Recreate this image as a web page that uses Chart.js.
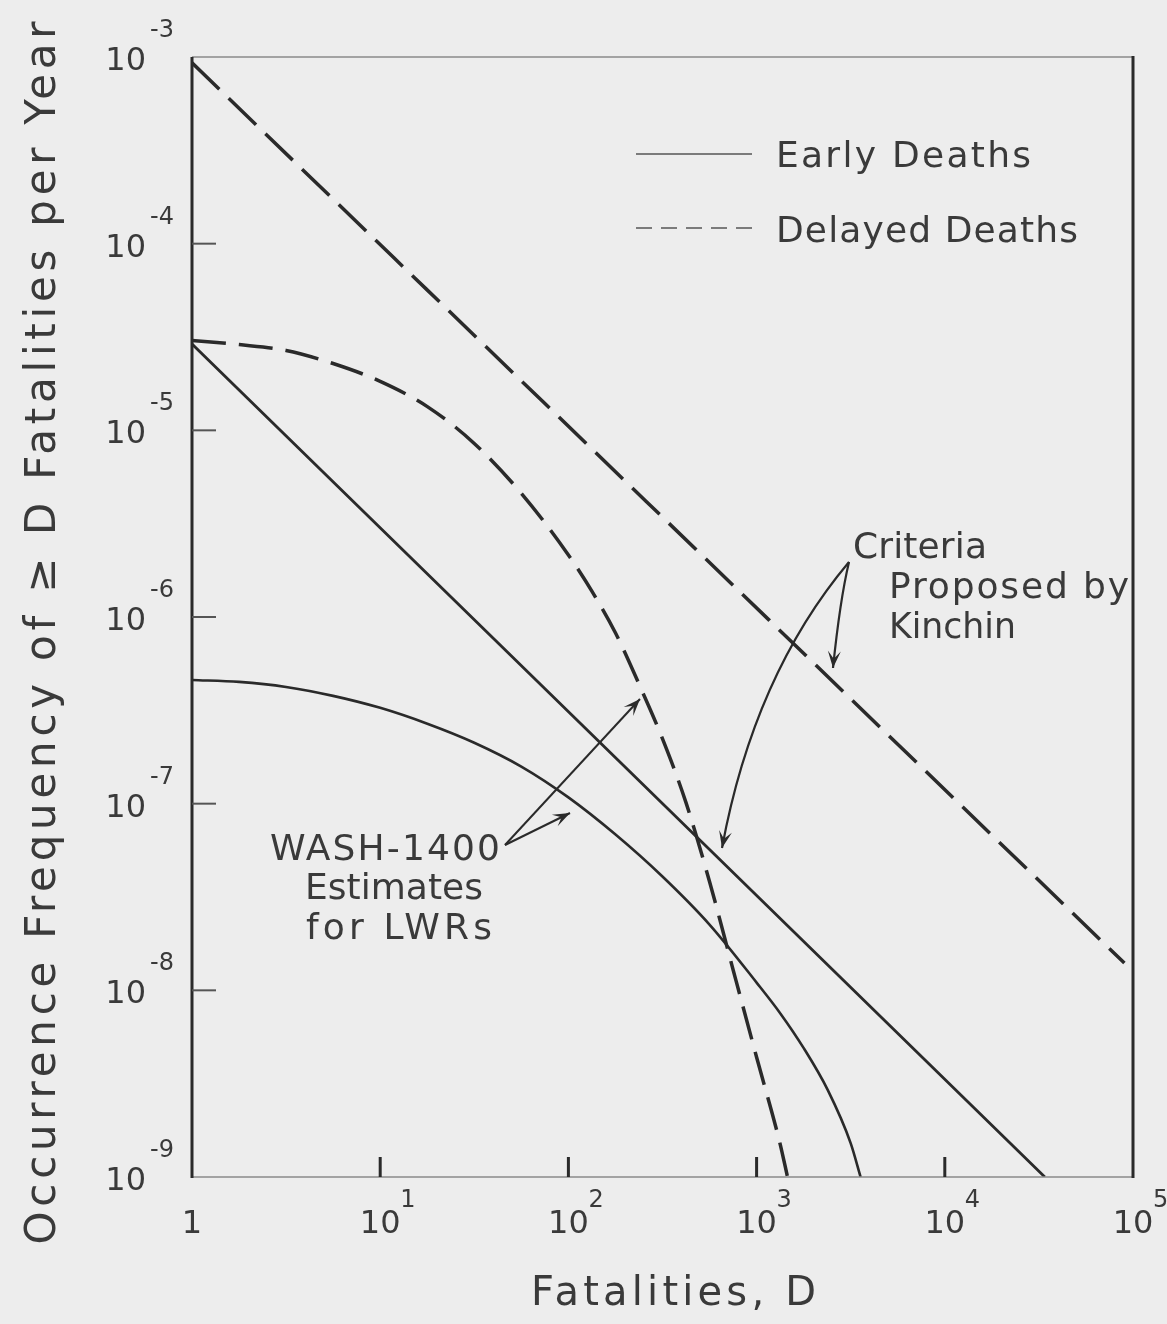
<!DOCTYPE html>
<html>
<head>
<meta charset="utf-8">
<script src="https://cdn.jsdelivr.net/npm/chart.js@4.4.1/dist/chart.umd.min.js"></script>
<style>
  html, body { margin: 0; padding: 0; background: #ededed; }
  canvas { display: block; }
</style>
</head>
<body>
<canvas id="fig" width="1167" height="1324"></canvas>
<script>
// Fatalities D (x) and frequency of >= D fatalities per year (y)
const kinchinEarlyD = [1, 34000];
const kinchinEarlyF = [2.9e-5, 1.0e-9];
const kinchinDelayedD = [1, 90000];
const kinchinDelayedF = [9.3e-4, 1.4e-8];

const washEarlyD = [1, 1.78, 3.16, 5.62, 10, 17.8, 31.6, 56.2, 100, 178, 316, 562, 1000, 1340, 1780, 2390, 3160, 3570];
const washEarlyF = [4.6e-7, 4.49e-7, 4.22e-7, 3.78e-7, 3.26e-7, 2.68e-7, 2.12e-7, 1.58e-7, 1.08e-7, 6.83e-8, 4.07e-8, 2.25e-8, 1.10e-8, 7.5e-9, 4.9e-9, 2.92e-9, 1.52e-9, 1.0e-9];

const washDelayedD = [1, 1.78, 3.16, 5.62, 10, 17.8, 31.6, 56.2, 100, 133, 178, 237, 316, 422, 562, 750, 1000, 1330, 1460];
const washDelayedF = [3.03e-5, 2.88e-5, 2.68e-5, 2.28e-5, 1.83e-5, 1.34e-5, 8.51e-6, 4.6e-6, 2.15e-6, 1.38e-6, 8.21e-7, 4.38e-7, 2.23e-7, 1.01e-7, 3.83e-8, 1.29e-8, 4.38e-9, 1.52e-9, 1.0e-9];

const xTickVals = [1, 10, 100, 1000, 10000, 100000];
const xTickExp = ['', '1', '2', '3', '4', '5'];
const yTickVals = [1e-3, 1e-4, 1e-5, 1e-6, 1e-7, 1e-8, 1e-9];
const yTickExp = ['-3', '-4', '-5', '-6', '-7', '-8', '-9'];

const FONT = '"DejaVu Sans", sans-serif';
const INK = '#2a2a2a';
const TXT = '#3a3a3a';

function toPoints(xs, ys) {
    return xs.map((d, i) => ({ x: d, y: ys[i] }));
}

// draw text stretched (letter spacing) to a given width
function fitText(c, text, x, y, width, size, align) {
    c.letterSpacing = '0px';
    c.font = size + 'px ' + FONT;
    let w = c.measureText(text).width;
    if (w > width) {
        size = size * width / w;
        c.font = size + 'px ' + FONT;
    } else if (text.length > 1) {
        c.letterSpacing = ((width - w) / (text.length - 1)) + 'px';
    }
    c.textAlign = 'left';
    let x0 = x;
    if (align === 'center') x0 = x - width / 2;
    if (align === 'right') x0 = x - width;
    c.fillText(text, x0, y);
    c.letterSpacing = '0px';
}

function arrowHead(c, tipX, tipY, fromX, fromY) {
    const ang = Math.atan2(tipY - fromY, tipX - fromX);
    const len = 17, half = 6.5;
    c.beginPath();
    c.moveTo(tipX, tipY);
    c.lineTo(tipX - len * Math.cos(ang) + half * Math.sin(ang), tipY - len * Math.sin(ang) - half * Math.cos(ang));
    c.lineTo(tipX - len * 0.55 * Math.cos(ang), tipY - len * 0.55 * Math.sin(ang));
    c.lineTo(tipX - len * Math.cos(ang) - half * Math.sin(ang), tipY - len * Math.sin(ang) + half * Math.cos(ang));
    c.closePath();
    c.fill();
}

const decor = {
    id: 'decor',
    beforeDraw(chart) {
        const c = chart.ctx;
        c.save();
        c.fillStyle = '#ededed';
        c.fillRect(0, 0, chart.width, chart.height);
        c.restore();
    },
    afterDraw(chart) {
        const c = chart.ctx;
        const a = chart.chartArea;
        const xs = chart.scales.x, ys = chart.scales.y;
        c.save();

        // frame: heavy sides, light top and bottom
        c.strokeStyle = '#8a8a8a';
        c.lineWidth = 1.5;
        c.beginPath();
        c.moveTo(a.left, a.top); c.lineTo(a.right, a.top);
        c.moveTo(a.left, a.bottom); c.lineTo(a.right, a.bottom);
        c.stroke();
        c.strokeStyle = INK;
        c.lineWidth = 3;
        c.beginPath();
        c.moveTo(a.left, a.top); c.lineTo(a.left, a.bottom + 1);
        c.moveTo(a.right, a.top - 1); c.lineTo(a.right, a.bottom + 1);
        c.stroke();

        // inward ticks
        c.lineWidth = 2;
        c.strokeStyle = '#555';
        yTickVals.slice(1, -1).forEach(v => {
            const py = ys.getPixelForValue(v);
            c.beginPath(); c.moveTo(a.left, py); c.lineTo(a.left + 24, py); c.stroke();
        });
        c.lineWidth = 3;
        c.strokeStyle = INK;
        xTickVals.slice(1, -1).forEach(v => {
            const px = xs.getPixelForValue(v);
            c.beginPath(); c.moveTo(px, a.bottom); c.lineTo(px, a.bottom - 20); c.stroke();
        });

        // tick labels
        c.fillStyle = TXT;
        c.textBaseline = 'alphabetic';
        yTickVals.forEach((v, i) => {
            const py = ys.getPixelForValue(v);
            c.font = '32px ' + FONT;
            c.textAlign = 'right';
            c.fillText('10', a.left - 46, py + 13);
            c.font = '24px ' + FONT;
            c.textAlign = 'left';
            c.fillText(yTickExp[i], a.left - 42, py - 20);
        });
        xTickVals.forEach((v, i) => {
            const px = xs.getPixelForValue(v);
            c.font = '32px ' + FONT;
            c.textAlign = 'center';
            if (i === 0) {
                c.fillText('1', px, a.bottom + 56);
                return;
            }
            c.fillText('10', px, a.bottom + 56);
            c.font = '24px ' + FONT;
            c.textAlign = 'left';
            c.fillText(xTickExp[i], px + 20, a.bottom + 30);
        });

        // axis titles
        fitText(c, 'Fatalities, D', 531, 1305, 285, 40, 'left');
        c.save();
        c.translate(55, 633);
        c.rotate(-Math.PI / 2);
        fitText(c, 'Occurrence Frequency of \u2265 D Fatalities per Year', 0, 0, 1223, 42, 'center');
        c.restore();

        // legend
        c.strokeStyle = '#555';
        c.lineWidth = 1.6;
        c.beginPath(); c.moveTo(636, 154); c.lineTo(752, 154); c.stroke();
        c.setLineDash([16, 9]);
        c.beginPath(); c.moveTo(636, 228); c.lineTo(752, 228); c.stroke();
        c.setLineDash([]);
        fitText(c, 'Early Deaths', 776, 167, 255, 36, 'left');
        fitText(c, 'Delayed Deaths', 776, 242, 302, 36, 'left');

        // Kinchin annotation
        fitText(c, 'Criteria', 853, 558, 134, 36, 'left');
        fitText(c, 'Proposed by', 889, 598, 240, 36, 'left');
        fitText(c, 'Kinchin', 889, 638, 127, 36, 'left');
        c.strokeStyle = INK;
        c.fillStyle = INK;
        c.lineWidth = 2.2;
        c.beginPath(); c.moveTo(849, 562); c.quadraticCurveTo(840, 600, 833, 668); c.stroke();
        arrowHead(c, 833, 668, 836, 630);
        c.beginPath(); c.moveTo(849, 562); c.quadraticCurveTo(754, 675, 722, 848); c.stroke();
        arrowHead(c, 722, 848, 731, 805);

        // WASH-1400 annotation
        c.fillStyle = TXT;
        fitText(c, 'WASH-1400', 270, 860, 230, 36, 'left');
        fitText(c, 'Estimates', 305, 899, 178, 36, 'left');
        fitText(c, 'for LWRs', 306, 939, 186, 36, 'left');
        c.strokeStyle = INK;
        c.fillStyle = INK;
        c.lineWidth = 2;
        c.beginPath(); c.moveTo(505, 845); c.lineTo(640, 699); c.stroke();
        arrowHead(c, 640, 699, 505, 845);
        c.beginPath(); c.moveTo(505, 845); c.lineTo(570, 813); c.stroke();
        arrowHead(c, 570, 813, 505, 845);

        c.restore();
    }
};

const lineStyle = {
    showLine: true,
    pointRadius: 0,
    borderColor: INK,
    borderCapStyle: 'butt',
    borderJoinStyle: 'round',
    cubicInterpolationMode: 'monotone',
    fill: false
};

new Chart(document.getElementById('fig'), {
    type: 'scatter',
    data: {
        datasets: [
            Object.assign({}, lineStyle, {
                label: 'Kinchin criterion, delayed deaths',
                data: toPoints(kinchinDelayedD, kinchinDelayedF),
                borderWidth: 3.5,
                borderDash: [38, 13]
            }),
            Object.assign({}, lineStyle, {
                label: 'Kinchin criterion, early deaths',
                data: toPoints(kinchinEarlyD, kinchinEarlyF),
                borderWidth: 2.8
            }),
            Object.assign({}, lineStyle, {
                label: 'WASH-1400, delayed deaths',
                data: toPoints(washDelayedD, washDelayedF),
                borderWidth: 3.5,
                borderDash: [34, 13]
            }),
            Object.assign({}, lineStyle, {
                label: 'WASH-1400, early deaths',
                data: toPoints(washEarlyD, washEarlyF),
                borderWidth: 2.6
            })
        ]
    },
    options: {
        responsive: false,
        animation: false,
        devicePixelRatio: 1,
        layout: { padding: { left: 192, right: 34, top: 57, bottom: 147 } },
        plugins: { legend: { display: false }, tooltip: { enabled: false } },
        scales: {
            x: { type: 'logarithmic', min: 1, max: 100000, display: false },
            y: { type: 'logarithmic', min: 1e-9, max: 1e-3, display: false }
        }
    },
    plugins: [decor]
});
</script>
</body>
</html>
